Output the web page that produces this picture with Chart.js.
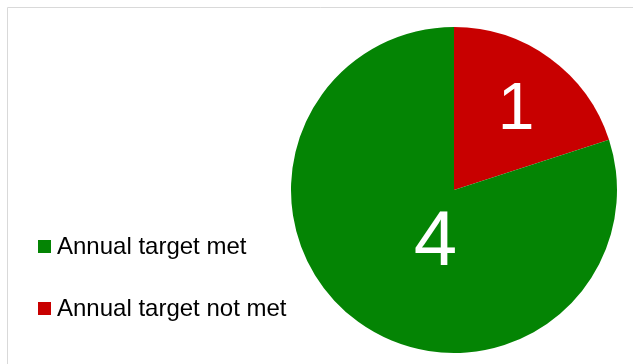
<!DOCTYPE html>
<html>
<head>
<meta charset="utf-8">
<script src="https://cdn.jsdelivr.net/npm/chart.js@4.4.1/dist/chart.umd.min.js"></script>
<style>
    html, body { margin: 0; padding: 0; background: #ffffff; }
    #wrap { position: relative; width: 633px; height: 364px; }
</style>
</head>
<body>
<div id="wrap"><canvas id="pieCanvas" width="633" height="364"></canvas></div>
<script>
// ข้อมูลของกราฟ
let categories = ['Annual target not met', 'Annual target met'];
let counts = [1, 4];
let sliceColors = ['#c80000', '#048404'];
// ลำดับของ legend (เขียวก่อน แดงทีหลัง)
let legendOrder = [1, 0];

// ตำแหน่งตัวเลขในแต่ละชิ้น (สัดส่วนรัศมี, เลื่อนมุม องศา) และขนาดตัวอักษร
let labelRadius = [0.62, 0.35];
let labelAngleShift = [2, -17];
let labelFontSize = [66, 78];

// กรอบสีเทาด้านบนและด้านซ้าย
const framePlugin = {
    id: 'frame',
    beforeDraw(chart) {
        let ctx = chart.ctx;
        ctx.save();
        ctx.strokeStyle = '#d9d9d9';
        ctx.lineWidth = 1;
        ctx.beginPath();
        ctx.moveTo(7.5, chart.height);
        ctx.lineTo(7.5, 7.5);
        ctx.lineTo(chart.width, 7.5);
        ctx.stroke();
        ctx.restore();
    }
};

// ตัวเลขสีขาวในแต่ละชิ้น
const sliceLabels = {
    id: 'sliceLabels',
    afterDatasetsDraw(chart) {
        let ctx = chart.ctx;
        let meta = chart.getDatasetMeta(0);
        ctx.save();
        ctx.fillStyle = '#ffffff';
        ctx.textAlign = 'center';
        ctx.textBaseline = 'middle';
        meta.data.forEach(function(arc, i) {
            let p = arc.getProps(['x', 'y', 'startAngle', 'endAngle', 'outerRadius'], true);
            let mid = (p.startAngle + p.endAngle) / 2 + labelAngleShift[i] * Math.PI / 180;
            let r = p.outerRadius * labelRadius[i];
            ctx.font = labelFontSize[i] + 'px "Liberation Sans", Arial, sans-serif';
            ctx.fillText(String(counts[i]), p.x + Math.cos(mid) * r, p.y + Math.sin(mid) * r);
        });
        ctx.restore();
    }
};

// legend ด้านซ้าย
const sideLegend = {
    id: 'sideLegend',
    afterDraw(chart) {
        let ctx = chart.ctx;
        ctx.save();
        ctx.font = '24px "Liberation Sans", Arial, sans-serif';
        ctx.textBaseline = 'middle';
        ctx.textAlign = 'left';
        legendOrder.forEach(function(idx, row) {
            let cy = 246 + row * 62;
            ctx.fillStyle = sliceColors[idx];
            ctx.fillRect(38, cy - 6, 13, 13);
            ctx.fillStyle = '#000000';
            ctx.fillText(categories[idx], 57, cy + 1);
        });
        ctx.restore();
    }
};

let pieCtx = document.getElementById('pieCanvas').getContext('2d');
let pieChart = new Chart(pieCtx, {
    type: 'pie',
    data: {
        labels: categories,
        datasets: [{
            data: counts,
            backgroundColor: sliceColors,
            borderWidth: 0
        }]
    },
    options: {
        responsive: false,
        animation: false,
        layout: {
            padding: { left: 291, right: 16, top: 27, bottom: 11 }
        },
        plugins: {
            legend: { display: false },
            tooltip: { enabled: false }
        }
    },
    plugins: [framePlugin, sliceLabels, sideLegend]
});
</script>
</body>
</html>
